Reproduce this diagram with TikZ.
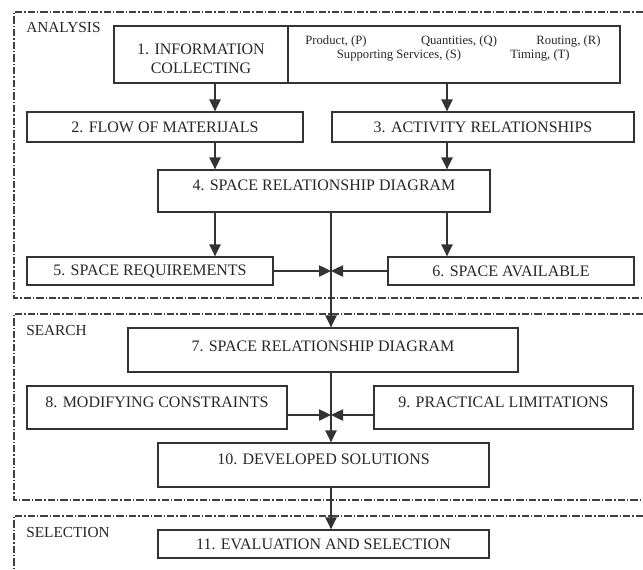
\documentclass[tikz,border=0pt]{standalone}
\usepackage{fontspec}
\setmainfont{Liberation Serif}
\usetikzlibrary{arrows.meta}

\begin{document}
\begin{tikzpicture}[x=0.75pt,y=-0.75pt,
	box/.style={draw=black!80, line width=1pt, inner sep=2pt, text=black!85, font=\fontsize{12}{14.5}\selectfont},
	factor/.style={inner sep=0pt, text=black!85, font=\fontsize{9.5}{11}\selectfont},
	zone/.style={draw=black!75, line width=0.8pt, dash pattern=on 5.5pt off 1.5pt on 1pt off 1.5pt},
	zonelabel/.style={anchor=west, inner sep=0pt, text=black!85, font=\fontsize{11.5}{13}\selectfont},
	arr/.style={draw=black!80, line width=1pt, -{Triangle[length=9pt,width=8.5pt]}}]

	\useasboundingbox (0,0) rectangle (643,569);

	% zones
	\draw [zone] (643,12) -- (14,12) -- (14,298) -- (643,298);
	\draw [zone] (643,314) -- (14,314) -- (14,500) -- (643,500);
	\draw [zone] (643,516) -- (14,516) -- (14,569);
	\node [zonelabel] (analysis) at (26,27) {ANALYSIS};
	\node [zonelabel] (search) at (26,330) {SEARCH};
	\node [zonelabel] (selection) at (26,532) {SELECTION};

	% analysis
	\node [box, minimum width=130.5pt, minimum height=42.75pt, align=center, text height=28.5pt] (info) at (201,54.5) {1. INFORMATION\\COLLECTING};
	\node [box, minimum width=249pt, minimum height=42.75pt] (factors) at (454,54.5) {};
	\node [factor] (product) at (336,41) {Product, (P)};
	\node [factor] (quantities) at (459,41) {Quantities, (Q)};
	\node [factor] (routing) at (568.5,41) {Routing, (R)};
	\node [factor] (services) at (399,55) {Supporting Services, (S)};
	\node [factor] (timing) at (540,55) {Timing, (T)};
	\node [box, minimum width=207pt, minimum height=22.5pt] (flow) at (165,127) {2. FLOW OF MATERIJALS};
	\node [box, minimum width=226.5pt, minimum height=22.5pt] (activity) at (483,127) {3. ACTIVITY RELATIONSHIPS};
	\node [box, minimum width=249pt, minimum height=31.5pt, text depth=9pt] (srd) at (324,191) {4. SPACE RELATIONSHIP DIAGRAM};
	\node [box, minimum width=184.5pt, minimum height=21pt] (req) at (150,271) {5. SPACE REQUIREMENTS};
	\node [box, minimum width=184.5pt, minimum height=21pt] (avail) at (511,271) {6. SPACE AVAILABLE};

	% search
	\node [box, minimum width=292.5pt, minimum height=33pt, text depth=6pt] (srdb) at (323,350) {7. SPACE RELATIONSHIP DIAGRAM};
	\node [box, minimum width=195pt, minimum height=32.25pt, text depth=8pt] (constraints) at (157,407.5) {8. MODIFYING CONSTRAINTS};
	\node [box, minimum width=194.25pt, minimum height=32.25pt, text depth=8pt] (limits) at (503.5,407.5) {9. PRACTICAL LIMITATIONS};
	\node [box, minimum width=248.25pt, minimum height=33pt, text depth=9pt] (solutions) at (323.5,465) {10. DEVELOPED SOLUTIONS};

	% selection
	\node [box, minimum width=248.25pt, minimum height=21pt] (evaluation) at (323.5,544) {11. EVALUATION AND SELECTION};

	% connectors
	\coordinate (colL) at (215,0);
	\coordinate (colR) at (447,0);
	\coordinate (colM) at (331,0);
	\coordinate (rowB) at (0,415);
	\draw [arr] (info.south -| colL) -- (flow.north -| colL);
	\draw [arr] (factors.south -| colR) -- (activity.north -| colR);
	\draw [arr] (flow.south -| colL) -- (srd.north -| colL);
	\draw [arr] (activity.south -| colR) -- (srd.north -| colR);
	\draw [arr] (srd.south -| colL) -- (req.north -| colL);
	\draw [arr] (srd.south -| colR) -- (avail.north -| colR);
	\draw [arr] (srd.south -| colM) -- (srdb.north -| colM);
	\draw [arr] (req.east) -- (req.east -| colM);
	\draw [arr] (avail.west) -- (avail.west -| colM);
	\draw [arr] (srdb.south -| colM) -- (solutions.north -| colM);
	\draw [arr] (constraints.east |- rowB) -- (colM |- rowB);
	\draw [arr] (limits.west |- rowB) -- (colM |- rowB);
	\draw [arr] (solutions.south -| colM) -- (evaluation.north -| colM);

\end{tikzpicture}
\end{document}
